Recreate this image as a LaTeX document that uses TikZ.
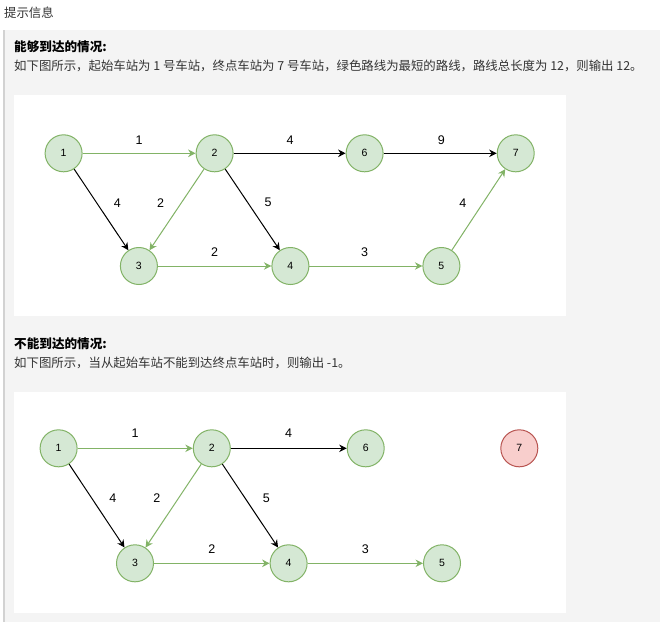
\documentclass[tikz,border=0pt]{standalone}
\usepackage{fontspec}
\setmainfont{Liberation Sans}
\newfontfamily\cjk{Noto Sans CJK SC}
\usetikzlibrary{arrows.meta}
\definecolor{gfill}{HTML}{D5E8D4}
\definecolor{gline}{HTML}{82B366}
\definecolor{rfill}{HTML}{F8CECC}
\definecolor{rline}{HTML}{B85450}
\definecolor{panel}{HTML}{F4F4F4}
\definecolor{barc}{HTML}{D2D2D2}
\definecolor{txt}{HTML}{333333}
\begin{document}
\begin{tikzpicture}[x=1pt,y=-1pt,
  station/.style={circle, draw=gline, fill=gfill, line width=1pt, minimum size=37pt, inner sep=0pt, font=\fontsize{10.5}{11}\selectfont},
  deadstation/.style={station, draw=rline, fill=rfill},
  wt/.style={font=\fontsize{12.5}{13}\selectfont, inner sep=0pt},
  tip/.style={-{Stealth[length=7.5pt,width=7.5pt,inset=2.5pt]}},
  okedge/.style={draw=gline, line width=1pt, tip},
  plainedge/.style={draw=black, line width=1pt, tip},
  para/.style={font=\cjk\fontsize{12.4}{15}\selectfont, text=txt, anchor=west, inner sep=0pt},
  head/.style={para, font=\cjk\bfseries\fontsize{12.6}{15}\selectfont, text=black}
]
\useasboundingbox (0,0) rectangle (660,622);
\fill[white] (0,0) rectangle (660,622);
\fill[panel] (3,30) rectangle (660,622);
\fill[barc] (3,30) rectangle (5,622);
\fill[white] (14,95) rectangle (566,316);
\fill[white] (14,392) rectangle (566,613);

\node[para] (title) at (4,13) {提示信息};
\node[head] (h1) at (14,47) {能够到达的情况:};
\node[para] (p1) at (14,66) {如下图所示，起始车站为 1 号车站，终点车站为 7 号车站，绿色路线为最短的路线，路线总长度为 12，则输出 12。};
\node[head] (h2) at (14,344) {不能到达的情况:};
\node[para] (p2) at (14,363) {如下图所示，当从起始车站不能到达终点车站时，则输出 -1。};

% graph 1
\node[station] (a1) at (63.6,153.3) {1};
\node[station] (a2) at (214.6,153.3) {2};
\node[station] (a6) at (364.6,153.3) {6};
\node[station] (a7) at (515.7,153.3) {7};
\node[station] (a3) at (138.9,266) {3};
\node[station] (a4) at (290.4,266) {4};
\node[station] (a5) at (441.4,266) {5};
\draw[okedge] (a1) -- (a2);
\draw[plainedge] (a2) -- (a6);
\draw[plainedge] (a6) -- (a7);
\draw[plainedge] (a1) -- (a3);
\draw[okedge] (a2) -- (a3);
\draw[plainedge] (a2) -- (a4);
\draw[okedge] (a3) -- (a4);
\draw[okedge] (a4) -- (a5);
\draw[okedge] (a5) -- (a7);
\node[wt] (w1) at (139,140) {1};
\node[wt] (w2) at (290,140) {4};
\node[wt] (w3) at (441.4,140) {9};
\node[wt] (w4) at (117.3,202.7) {4};
\node[wt] (w5) at (160.7,202.7) {2};
\node[wt] (w6) at (268,202.7) {5};
\node[wt] (w7) at (462.8,202.7) {4};
\node[wt] (w8) at (214.6,252) {2};
\node[wt] (w9) at (364.6,252) {3};

% graph 2
\node[station] (b1) at (58.6,448.3) {1};
\node[station] (b2) at (211.8,448.3) {2};
\node[station] (b6) at (365.7,448.3) {6};
\node[deadstation] (b7) at (519.3,448.3) {7};
\node[station] (b3) at (135,563.3) {3};
\node[station] (b4) at (288.6,563.3) {4};
\node[station] (b5) at (442,563.3) {5};
\draw[okedge] (b1) -- (b2);
\draw[plainedge] (b2) -- (b6);
\draw[plainedge] (b1) -- (b3);
\draw[okedge] (b2) -- (b3);
\draw[plainedge] (b2) -- (b4);
\draw[okedge] (b3) -- (b4);
\draw[okedge] (b4) -- (b5);
\node[wt] (v1) at (135,433.3) {1};
\node[wt] (v2) at (288.6,433.3) {4};
\node[wt] (v3) at (112.9,498.3) {4};
\node[wt] (v4) at (156.8,498.3) {2};
\node[wt] (v5) at (266.4,498.3) {5};
\node[wt] (v6) at (211.8,549.3) {2};
\node[wt] (v7) at (365.4,549.3) {3};
\end{tikzpicture}
\end{document}
